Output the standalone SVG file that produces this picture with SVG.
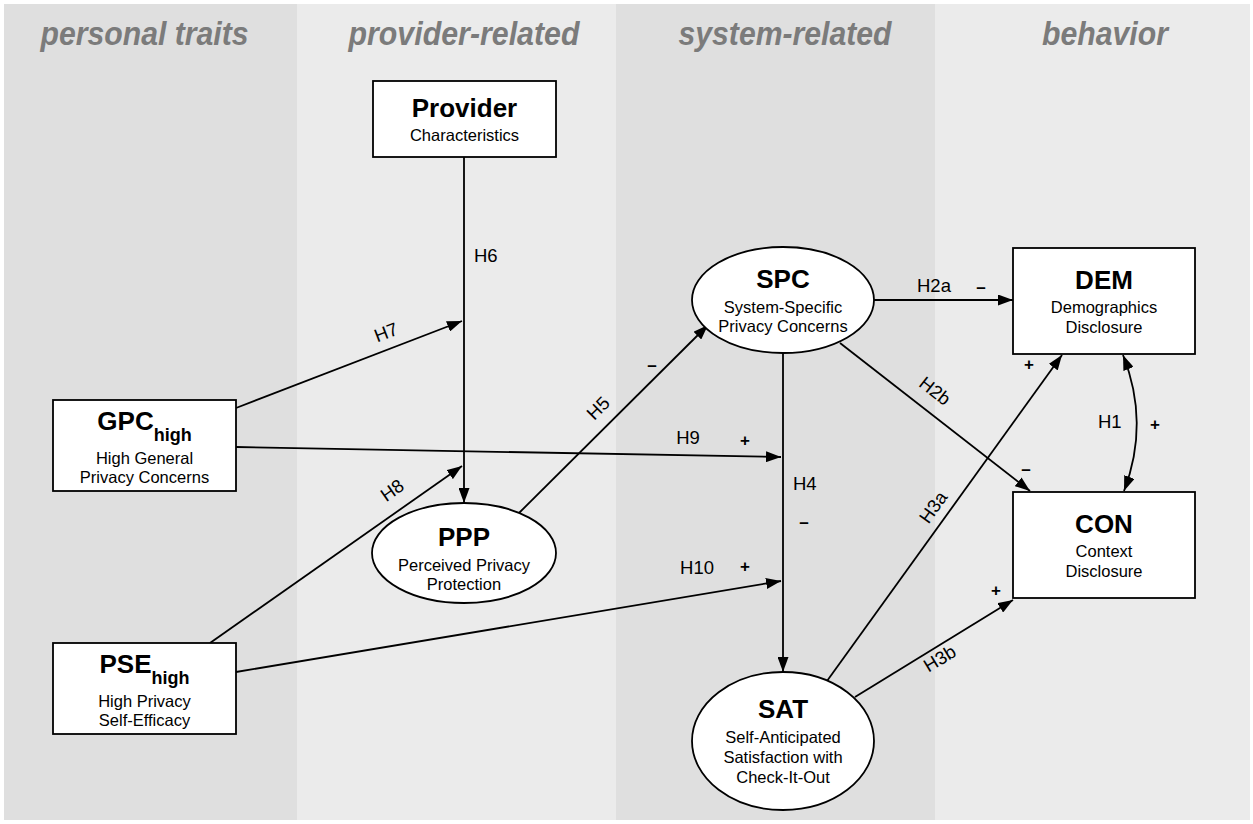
<svg xmlns="http://www.w3.org/2000/svg" width="1253" height="824" viewBox="0 0 1253 824">
<defs>
<style>
.hdr{font-family:"Liberation Sans",Arial,sans-serif;font-size:33px;font-weight:bold;font-style:italic;fill:#7b7b7b;text-anchor:middle}
.node{fill:#fff;stroke:#000;stroke-width:1.8}
.ttl{font-family:"Liberation Sans",Arial,sans-serif;font-size:26px;font-weight:bold;fill:#000;text-anchor:middle}
.sub{font-family:"Liberation Sans",Arial,sans-serif;font-size:16.5px;fill:#000;text-anchor:middle}
.lbl{font-family:"Liberation Sans",Arial,sans-serif;font-size:18.5px;fill:#000}
.sgn{font-family:"Liberation Sans",Arial,sans-serif;font-size:17px;font-weight:bold;fill:#000;text-anchor:middle}
.edge{fill:none;stroke:#000;stroke-width:1.8}
</style>
<marker id="ah" markerUnits="userSpaceOnUse" markerWidth="15" markerHeight="11" refX="15" refY="5.5" orient="auto-start-reverse" viewBox="0 0 15 11">
<path d="M0,0 L15,5.5 L0,11 z" fill="#000"/>
</marker>
</defs>
<g id="background">
<rect x="4" y="4" width="293" height="816" fill="#dfdfdf"/>
<rect x="297" y="4" width="319" height="816" fill="#ebebeb"/>
<rect x="616" y="4" width="319" height="816" fill="#dfdfdf"/>
<rect x="935" y="4" width="315" height="816" fill="#ebebeb"/>
<text class="hdr" x="144.5" y="45" textLength="208" lengthAdjust="spacingAndGlyphs">personal traits</text>
<text class="hdr" x="464" y="45" textLength="231" lengthAdjust="spacingAndGlyphs">provider-related</text>
<text class="hdr" x="785" y="45" textLength="213" lengthAdjust="spacingAndGlyphs">system-related</text>
<text class="hdr" x="1105" y="45" textLength="126" lengthAdjust="spacingAndGlyphs">behavior</text>
</g>
<g id="connectors">
<line class="edge" x1="464" y1="157" x2="464" y2="503" marker-end="url(#ah)"/>
<line class="edge" x1="236" y1="408" x2="462" y2="321" marker-end="url(#ah)"/>
<line class="edge" x1="236" y1="447" x2="781" y2="457" marker-end="url(#ah)"/>
<line class="edge" x1="210" y1="643" x2="462" y2="466" marker-end="url(#ah)"/>
<line class="edge" x1="236" y1="672" x2="781" y2="581" marker-end="url(#ah)"/>
<line class="edge" x1="519" y1="513" x2="708" y2="325" marker-end="url(#ah)"/>
<line class="edge" x1="874" y1="300" x2="1013" y2="300" marker-end="url(#ah)"/>
<line class="edge" x1="840" y1="343" x2="1030" y2="491" marker-end="url(#ah)"/>
<line class="edge" x1="783" y1="353" x2="783" y2="672" marker-end="url(#ah)"/>
<line class="edge" x1="827" y1="681" x2="1062" y2="355" marker-end="url(#ah)"/>
<line class="edge" x1="855" y1="697" x2="1013" y2="600" marker-end="url(#ah)"/>
<path class="edge" d="M1123,355 Q1150,423 1124,491" marker-start="url(#ah)" marker-end="url(#ah)"/>
<text class="lbl" x="474" y="262">H6</text>
<text class="lbl" text-anchor="middle" transform="translate(388.4,338.2) rotate(-21)">H7</text>
<text class="lbl" text-anchor="middle" transform="translate(395.8,495.4) rotate(-35.2)">H8</text>
<text class="lbl" text-anchor="middle" x="688" y="444">H9</text>
<text class="sgn" x="745" y="446">+</text>
<text class="lbl" text-anchor="middle" x="697" y="574">H10</text>
<text class="sgn" x="745" y="572">+</text>
<text class="lbl" text-anchor="middle" transform="translate(602.7,412.7) rotate(-45)">H5</text>
<text class="sgn" x="652" y="371">–</text>
<text class="lbl" x="917" y="292">H2a</text>
<text class="sgn" x="981" y="293">–</text>
<text class="lbl" text-anchor="middle" transform="translate(931,396) rotate(38)">H2b</text>
<text class="sgn" x="1026" y="475">–</text>
<text class="lbl" x="793" y="490">H4</text>
<text class="sgn" x="804" y="528">–</text>
<text class="lbl" text-anchor="middle" transform="translate(938.4,510.9) rotate(-54.3)">H3a</text>
<text class="sgn" x="1029" y="370">+</text>
<text class="lbl" text-anchor="middle" transform="translate(943,664) rotate(-31.5)">H3b</text>
<text class="sgn" x="996" y="596">+</text>
<text class="lbl" x="1098" y="428">H1</text>
<text class="sgn" x="1155" y="430">+</text>
</g>
<g id="provider">
<rect class="node" x="373" y="81" width="183" height="76"/>
<text class="ttl" x="464.5" y="117">Provider</text>
<text class="sub" x="464.5" y="141">Characteristics</text>
</g>
<g id="gpc">
<rect class="node" x="53" y="400" width="183" height="91"/>
<text class="ttl" x="144.5" y="430">GPC<tspan font-size="18" dy="11">high</tspan></text>
<text class="sub" x="144.5" y="464">High General</text>
<text class="sub" x="144.5" y="483">Privacy Concerns</text>
</g>
<g id="pse">
<rect class="node" x="53" y="643" width="183" height="91"/>
<text class="ttl" x="144.5" y="673">PSE<tspan font-size="18" dy="11">high</tspan></text>
<text class="sub" x="144.5" y="707">High Privacy</text>
<text class="sub" x="144.5" y="726">Self-Efficacy</text>
</g>
<g id="ppp">
<ellipse class="node" cx="464" cy="553" rx="92" ry="50"/>
<text class="ttl" x="464" y="546">PPP</text>
<text class="sub" x="464" y="571">Perceived Privacy</text>
<text class="sub" x="464" y="590">Protection</text>
</g>
<g id="spc">
<ellipse class="node" cx="783" cy="300" rx="91" ry="53"/>
<text class="ttl" x="783" y="288">SPC</text>
<text class="sub" x="783" y="313">System-Specific</text>
<text class="sub" x="783" y="332">Privacy Concerns</text>
</g>
<g id="sat">
<ellipse class="node" cx="783" cy="741" rx="91" ry="69"/>
<text class="ttl" x="783" y="718">SAT</text>
<text class="sub" x="783" y="743">Self-Anticipated</text>
<text class="sub" x="783" y="763">Satisfaction with</text>
<text class="sub" x="783" y="783">Check-It-Out</text>
</g>
<g id="dem">
<rect class="node" x="1013" y="248" width="182" height="106"/>
<text class="ttl" x="1104" y="289">DEM</text>
<text class="sub" x="1104" y="313">Demographics</text>
<text class="sub" x="1104" y="333">Disclosure</text>
</g>
<g id="con">
<rect class="node" x="1013" y="492" width="182" height="106"/>
<text class="ttl" x="1104" y="533">CON</text>
<text class="sub" x="1104" y="557">Context</text>
<text class="sub" x="1104" y="577">Disclosure</text>
</g>
</svg>
